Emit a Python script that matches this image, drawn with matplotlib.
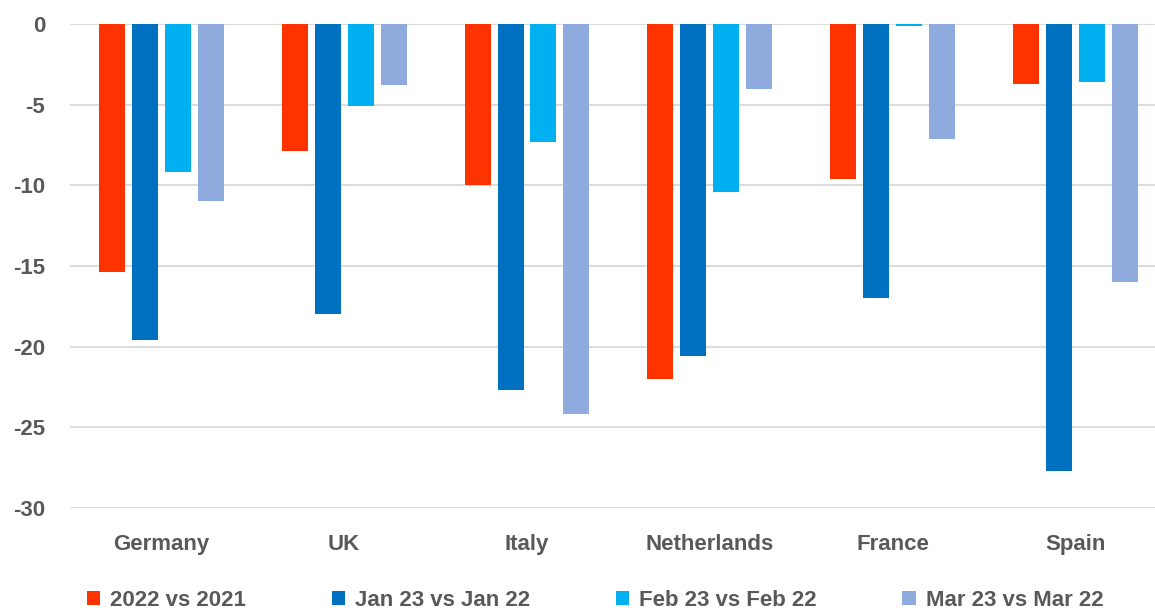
import matplotlib
matplotlib.use("Agg")
import matplotlib.pyplot as plt
import numpy as np

countries = ["Germany", "UK", "Italy", "Netherlands", "France", "Spain"]
series_names = ["2022 vs 2021", "Jan 23 vs Jan 22", "Feb 23 vs Feb 22", "Mar 23 vs Mar 22"]
s2022 = [-15.4, -7.9, -10.0, -22.0, -9.6, -3.7]
sjan = [-19.6, -18.0, -22.7, -20.6, -17.0, -27.7]
sfeb = [-9.2, -5.1, -7.3, -10.4, -0.1, -3.6]
smar = [-11.0, -3.8, -24.2, -4.0, -7.1, -16.0]
yticks = [0, -5, -10, -15, -20, -25, -30]

colors = ["#FF3300", "#0070C0", "#00B0F0", "#8FAADC"]
plt.rcParams['font.family'] = ['Liberation Sans', 'DejaVu Sans']

fig = plt.figure(figsize=(11.55, 6.12), dpi=100)
ax = fig.add_axes([70/1155, 1-508/612, 1-70/1155, (508-24)/612])

x = np.arange(len(countries))
w = 0.142
step = 0.18
handles = []
for i, (vals, c, name) in enumerate(zip([s2022, sjan, sfeb, smar], colors, series_names)):
    b = ax.bar(x + (i-1.5)*step, vals, width=w, color=c, label=name, zorder=3)
    handles.append(b)

ax.set_ylim(-30, 0)
ax.set_xlim(-0.5, (1155-162)/182.7)
ax.set_yticks(yticks)
ax.set_yticklabels([str(t) for t in yticks])
ax.set_xticks(x)
ax.set_xticklabels(countries)
ax.yaxis.grid(True, color="#D9D9D9", linewidth=1.3, zorder=0)
for s in ax.spines.values():
    s.set_visible(False)
ax.tick_params(axis='both', length=0, colors="#595959", labelsize=16)
ax.tick_params(axis='y', pad=18)
ax.tick_params(axis='x', pad=19)
for lbl in ax.get_xticklabels() + ax.get_yticklabels():
    lbl.set_fontweight('bold')
    lbl.set_color("#595959")

leg = fig.legend(handles=handles, loc='center left', bbox_to_anchor=(87/1155, 1-600/612),
                 ncol=4, frameon=False, fontsize=16, handlelength=0.6, handleheight=0.6,
                 handletextpad=0.45, columnspacing=3.85, borderpad=0, borderaxespad=0)
for t in leg.get_texts():
    t.set_fontweight('bold')
    t.set_color("#595959")

fig.savefig("out.png", dpi=100)
